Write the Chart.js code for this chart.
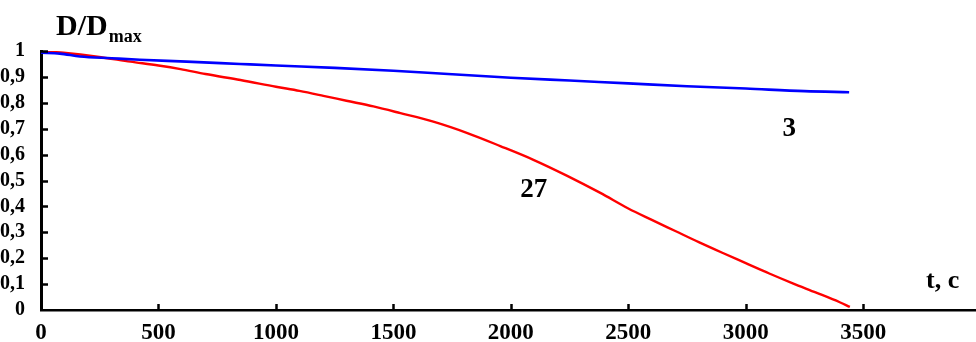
<!DOCTYPE html>
<html>
<head>
<meta charset="utf-8">
<script src="https://cdn.jsdelivr.net/npm/chart.js@4/dist/chart.umd.min.js"></script>
<style>
html,body{margin:0;padding:0;background:#fff;}
#wrap{position:relative;width:976px;height:342px;}
</style>
</head>
<body>
<div id="wrap"><canvas id="c" width="976" height="342"></canvas></div>
<script>
// ---- data ----
const redT   = [0, 96, 240, 381, 500, 594, 700, 849, 1000, 1100, 1202, 1300, 1415, 1530, 1670, 1815, 1955, 2096, 2240, 2381, 2500, 2600, 2700, 2800, 2900, 3000, 3100, 3200, 3300, 3400, 3443];
const redV   = [1.0, 0.993, 0.978, 0.959, 0.944, 0.930, 0.911, 0.888, 0.862, 0.846, 0.827, 0.808, 0.786, 0.760, 0.727, 0.683, 0.633, 0.580, 0.518, 0.452, 0.392, 0.348, 0.305, 0.262, 0.221, 0.181, 0.141, 0.103, 0.067, 0.030, 0.012];
const blueT  = [0, 80, 166, 300, 421, 620, 847, 1000, 1250, 1500, 1750, 2000, 2250, 2500, 2750, 3000, 3250, 3440];
const blueV  = [0.993, 0.990, 0.979, 0.972, 0.966, 0.959, 0.950, 0.944, 0.935, 0.924, 0.910, 0.897, 0.886, 0.875, 0.864, 0.855, 0.845, 0.841];
const xTicks = [0, 500, 1000, 1500, 2000, 2500, 3000, 3500];
const yTicks = [0, 0.1, 0.2, 0.3, 0.4, 0.5, 0.6, 0.7, 0.8, 0.9, 1];
const seriesNames = ['3', '27'];
const xLabel = 't, c';
const yLabelMain = 'D/D';
const yLabelSub = 'max';

const redPts = redT.map((t, i) => ({x: t, y: redV[i]}));
const bluePts = blueT.map((t, i) => ({x: t, y: blueV[i]}));

const FONT = '"Liberation Serif", "Times New Roman", serif';

const decor = {
  id: 'decor',
  afterDraw(chart) {
    const ctx = chart.ctx;
    const xs = chart.scales.x, ys = chart.scales.y;
    const ca = chart.chartArea;
    ctx.save();
    ctx.strokeStyle = '#000';
    ctx.lineWidth = 2.5;
    xs.ticks.forEach(t => {
      if (t.value === 0) return;
      const px = Math.round(xs.getPixelForValue(t.value)) + 0.5;
      ctx.beginPath(); ctx.moveTo(px, ca.bottom); ctx.lineTo(px, ca.bottom - 6); ctx.stroke();
    });
    ys.ticks.forEach(t => {
      if (t.value === 0) return;
      const py = Math.round(ys.getPixelForValue(t.value)) + 0.5;
      ctx.beginPath(); ctx.moveTo(ca.left, py); ctx.lineTo(ca.left + 7, py); ctx.stroke();
    });
    ctx.fillStyle = '#000';
    ctx.textBaseline = 'alphabetic';
    ctx.textAlign = 'left';
    ctx.font = 'bold 30px ' + FONT;
    ctx.fillText(yLabelMain, ca.left + 15, 35);
    const w = ctx.measureText(yLabelMain).width;
    ctx.font = 'bold 18px ' + FONT;
    ctx.fillText(yLabelSub, ca.left + 15 + w + 1, 42);
    ctx.font = 'bold 26px ' + FONT;
    ctx.fillText(xLabel, 926, 288);
    ctx.textAlign = 'center';
    ctx.font = 'bold 27px ' + FONT;
    ctx.fillText(seriesNames[0], xs.getPixelForValue(3185), ys.getPixelForValue(0.67));
    ctx.fillText(seriesNames[1], xs.getPixelForValue(2098), ys.getPixelForValue(0.436));
    ctx.restore();
  }
};

new Chart(document.getElementById('c'), {
  type: 'line',
  data: {
    datasets: [
      {label: seriesNames[0], data: bluePts, borderColor: '#0000ff', borderWidth: 2.6, pointRadius: 0, cubicInterpolationMode: 'monotone', fill: false},
      {label: seriesNames[1], data: redPts, borderColor: '#ff0000', borderWidth: 2.4, pointRadius: 0, cubicInterpolationMode: 'monotone', fill: false}
    ]
  },
  options: {
    responsive: false,
    animation: false,
    devicePixelRatio: 1,
    layout: {padding: {top: 51, right: 0, left: 0, bottom: 0}},
    plugins: {legend: {display: false}, tooltip: {enabled: false}},
    scales: {
      x: {
        type: 'linear', min: 0, max: 3980,
        grid: {display: false},
        border: {display: true, color: '#000', width: 2.5},
        afterBuildTicks: s => { s.ticks = xTicks.map(v => ({value: v})); },
        afterFit: s => { s.height = 32; },
        ticks: {
          padding: 1, color: '#000', maxRotation: 0, autoSkip: false,
          font: {family: FONT, size: 23, weight: 'bold'},
          callback: v => String(v)
        }
      },
      y: {
        type: 'linear', min: 0, max: 1,
        grid: {display: false},
        border: {display: true, color: '#000', width: 3},
        afterBuildTicks: s => { s.ticks = yTicks.map(v => ({value: v})); },
        afterFit: s => { s.width = 41; },
        ticks: {
          padding: 8, color: '#000', autoSkip: false,
          font: {family: FONT, size: 20, weight: 'bold'},
          callback: v => String(Math.round(v * 10) / 10).replace('.', ',')
        }
      }
    }
  },
  plugins: [decor]
});
</script>
</body>
</html>
